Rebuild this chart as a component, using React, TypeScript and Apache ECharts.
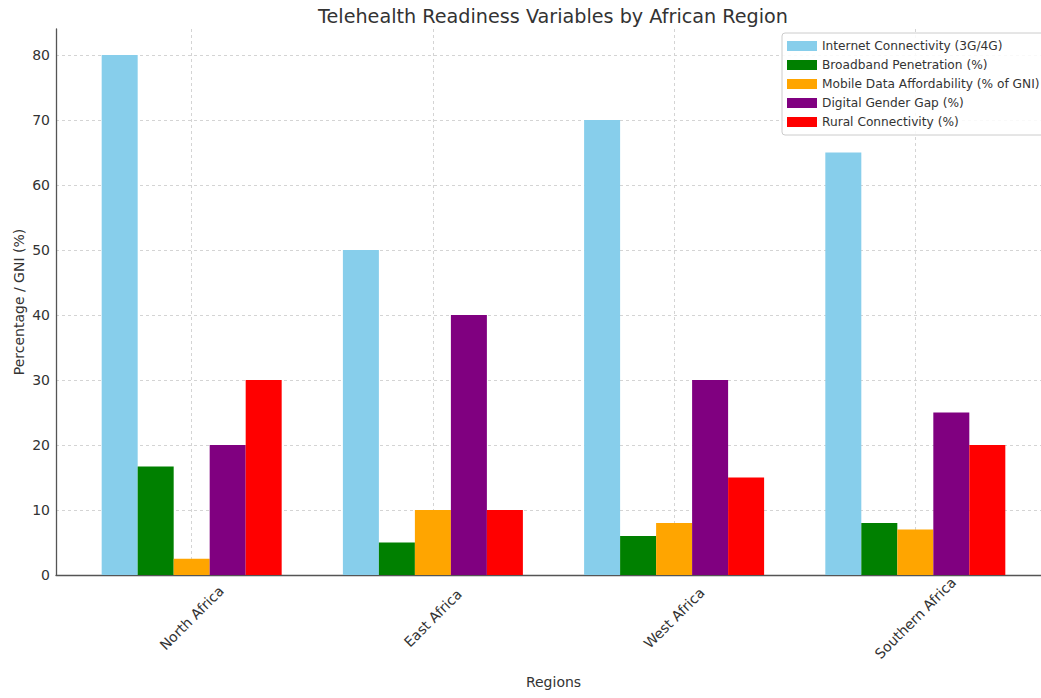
import React, { useEffect, useRef } from "react";
import * as echarts from "echarts";

const regions = ["North Africa", "East Africa", "West Africa", "Southern Africa"];
const seriesNames = [
  "Internet Connectivity (3G/4G)",
  "Broadband Penetration (%)",
  "Mobile Data Affordability (% of GNI)",
  "Digital Gender Gap (%)",
  "Rural Connectivity (%)",
];
const internetConnectivity = [80, 50, 70, 65];
const broadbandPenetration = [16.7, 5, 6, 8];
const mobileDataAffordability = [2.5, 10, 8, 7];
const digitalGenderGap = [20, 40, 30, 25];
const ruralConnectivity = [30, 10, 15, 20];
const seriesValues = [
  internetConnectivity,
  broadbandPenetration,
  mobileDataAffordability,
  digitalGenderGap,
  ruralConnectivity,
];
const colors = ["#87CEEB", "#008000", "#FFA500", "#800080", "#FF0000"];

const FONT = "DejaVu Sans";

export default function App() {
  const ref = useRef<HTMLDivElement>(null);
  useEffect(() => {
    if (!ref.current) return;
    const chart = echarts.init(ref.current, undefined, { renderer: "svg" });
    const gridLine = { show: true, lineStyle: { color: "#d4d4d4", type: [3, 3] as any, width: 1 } };
    chart.setOption({
      animation: false,
      backgroundColor: "#fff",
      textStyle: { fontFamily: FONT },
      title: {
        text: "Telehealth Readiness Variables by African Region",
        left: 548,
        textAlign: "center",
        top: 2,
        textStyle: { fontFamily: FONT, fontSize: 19.2, fontWeight: "normal", color: "#333" },
      },
      legend: {
        orient: "vertical",
        left: 782,
        top: 33,
        data: seriesNames,
        itemWidth: 30,
        itemHeight: 10,
        itemGap: 5,
        padding: [6, 8, 6, 5],
        borderColor: "#ccc",
        borderWidth: 1,
        borderRadius: 3,
        backgroundColor: "rgba(255,255,255,0.85)",
        icon: "rect",
        textStyle: { fontFamily: FONT, fontSize: 12.2, color: "#333", lineHeight: 14 },
      },
      grid: [
        { left: 56, width: 995, top: 29, bottom: 123 },
        { left: 56, width: 995, top: 55, bottom: 123 },
      ],
      xAxis: [
        {
          type: "value",
          gridIndex: 0,
          min: -0.5625,
          max: 3.5625,
          name: "Regions",
          nameLocation: "middle",
          nameGap: 100,
          nameTextStyle: { fontFamily: FONT, fontSize: 14, color: "#333" },
          axisLine: { show: true, onZero: false, lineStyle: { color: "#555", width: 1.3 } },
          axisTick: { show: true, inside: true, length: 3, customValues: [0, 1, 2, 3], lineStyle: { color: "#555" } },
          axisLabel: {
            customValues: [0, 1, 2, 3],
            formatter: (v: number) => regions[Math.round(v)] ?? "",
            rotate: 45,
            align: "center",
            verticalAlign: "middle",
            margin: 43,
            fontFamily: FONT,
            fontSize: 14,
            color: "#333",
          },
          splitLine: gridLine,
        },
        { type: "value", gridIndex: 1, min: 0, max: 1, show: false },
      ],
      yAxis: [
        {
          type: "value",
          gridIndex: 0,
          min: 0,
          max: 84,
          name: "Percentage / GNI (%)",
          nameLocation: "middle",
          nameGap: 30,
          nameTextStyle: { fontFamily: FONT, fontSize: 14, color: "#333" },
          axisLine: { show: true, onZero: false, lineStyle: { color: "#555", width: 1.3 } },
          axisTick: { show: false },
          axisLabel: { show: false },
          splitLine: { show: false },
        },
        {
          type: "value",
          gridIndex: 1,
          min: 0,
          max: 80,
          interval: 10,
          axisLine: { show: false, onZero: false },
          axisTick: { show: false },
          axisLabel: { fontFamily: FONT, fontSize: 14, color: "#333", margin: 6 },
          splitLine: gridLine,
        },
      ],
      series: seriesNames.map((name, s) => ({
        name,
        type: "bar",
        xAxisIndex: 0,
        yAxisIndex: 0,
        barWidth: 36,
        barGap: "0%",
        itemStyle: { color: colors[s] },
        data: seriesValues[s].map((v, i) => [i, v]),
      })),
    });
    return () => chart.dispose();
  }, []);
  return (
    <div
      ref={ref}
      style={{ position: "fixed", left: 0, top: 0, width: 1070, height: 698 }}
    />
  );
}
